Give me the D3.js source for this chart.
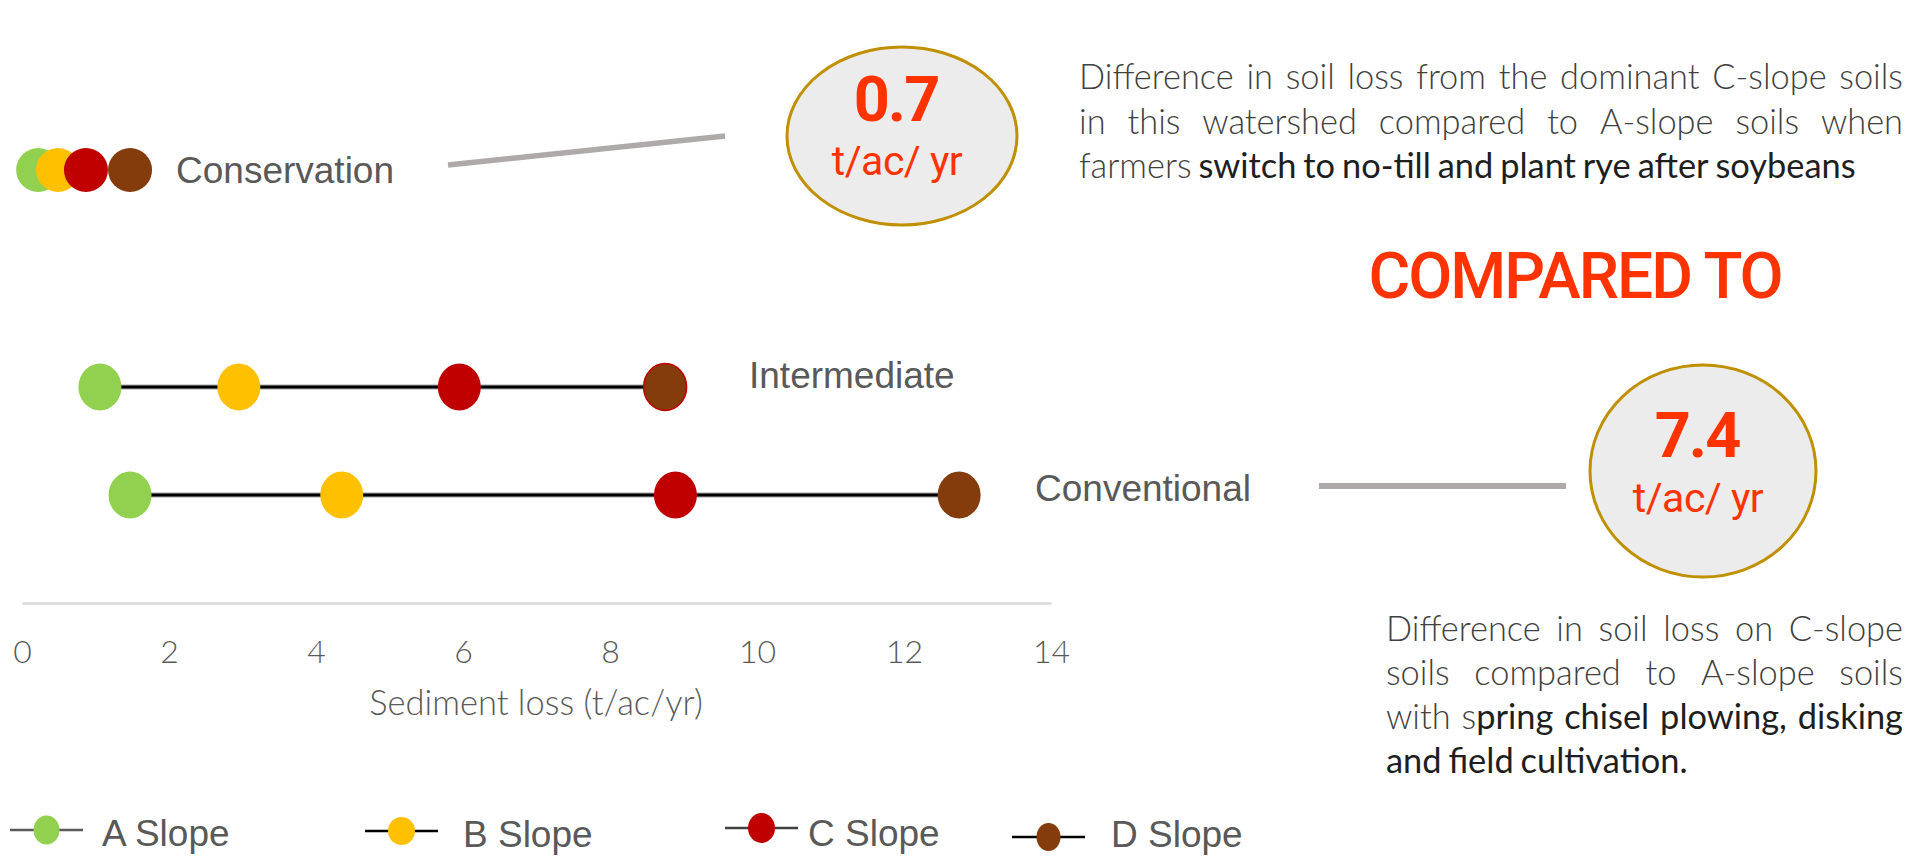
<!DOCTYPE html>
<html>
<head>
<meta charset="utf-8">
<script src="https://cdn.jsdelivr.net/npm/d3@7/dist/d3.min.js"></script>
<style>
  html, body { margin: 0; padding: 0; background: #ffffff; }
  svg { display: block; }
</style>
</head>
<body>
<svg id="chart" width="1921" height="856"></svg>
<script>
// ---------------- DATA ----------------
const categories = ["Conservation", "Intermediate", "Conventional"];
const slopeNames = ["A Slope", "B Slope", "C Slope", "D Slope"];
const aSlope = [0.22, 1.06, 1.47];
const bSlope = [0.49, 2.95, 4.35];
const cSlope = [0.87, 5.95, 8.89];
const dSlope = [1.47, 8.75, 12.75];
const xTicks = [0, 2, 4, 6, 8, 10, 12, 14];
const axisTitle = "Sediment loss (t/ac/yr)";
const diffValues = ["0.7", "7.4"];
const diffUnit = "t/ac/ yr";
const headline = "COMPARED TO";
// '*' toggles the darker (emphasised) text
const para1 = [
  "Difference in soil loss from the dominant C-slope soils",
  "in this watershed compared to A-slope soils when",
  "farmers *switch to no-till and plant rye after soybeans"
];
const para2 = [
  "Difference in soil loss on C-slope",
  "soils compared to A-slope soils",
  "with s*pring chisel plowing, disking",
  "and field cultivation."
];

// ---------------- STYLE / LAYOUT ----------------
const slopeColors = ["#92d050", "#ffc000", "#c00000", "#843c0c"];
const series = [aSlope, bSlope, cSlope, dSlope];
const labelColor = "#595959";
const accent = "#ff3300";

const svg = d3.select("#chart");

const x = d3.scaleLinear().domain([0, 14]).range([22, 1051]);
const y = d3.scaleOrdinal().domain(categories).range([170, 387, 495]);

// ---------------- AXIS ----------------
const axisG = svg.append("g").attr("transform", "translate(0,603)")
  .call(d3.axisBottom(x).tickValues(xTicks).tickSize(0).tickSizeOuter(0).tickFormat(d3.format("d")));
axisG.select(".domain").attr("stroke", "#d9d9d9").attr("stroke-width", 2.5);
axisG.selectAll(".tick text")
  .attr("y", 60).attr("dy", null)
  .attr("fill", labelColor)
  .style("font-family", "Lato, sans-serif").style("font-weight", 300).style("font-size", "32px");

svg.append("text")
  .attr("x", 536).attr("y", 715).attr("text-anchor", "middle")
  .attr("fill", labelColor)
  .style("font-family", "Lato, sans-serif").style("font-weight", 300).style("font-size", "34.5px")
  .text(axisTitle);

// ---------------- DUMBBELL ROWS ----------------
const rows = categories.map((c, i) => ({ cat: c, vals: series.map(s => s[i]) }));

rows.filter(r => r.cat !== "Conservation").forEach(r => {
  const x1 = x(d3.min(r.vals)), x2 = x(d3.max(r.vals));
  svg.append("line").attr("x1", x1).attr("x2", x2).attr("y1", y(r.cat)).attr("y2", y(r.cat))
    .attr("stroke", "#a6a6a6").attr("stroke-width", 5);
  svg.append("line").attr("x1", x1).attr("x2", x2).attr("y1", y(r.cat)).attr("y2", y(r.cat))
    .attr("stroke", "#000").attr("stroke-width", 3);
});

rows.forEach(r => {
  const g = svg.append("g");
  g.selectAll("ellipse").data(r.vals).join("ellipse")
    .attr("cx", d => x(d))
    .attr("cy", y(r.cat))
    .attr("rx", r.cat === "Conservation" ? 22 : 21.5)
    .attr("ry", r.cat === "Conservation" ? 22 : 23.5)
    .attr("fill", (d, i) => slopeColors[i])
    .attr("stroke", (d, i) => (r.cat === "Intermediate" && i === 3) ? "#c00000" : "none")
    .attr("stroke-width", 1.5);
});

const rowLabelPos = { "Conservation": [176, 183], "Intermediate": [749, 388], "Conventional": [1035, 501] };
categories.forEach(c => {
  svg.append("text").attr("x", rowLabelPos[c][0]).attr("y", rowLabelPos[c][1])
    .attr("fill", labelColor)
    .style("font-family", "'Liberation Sans', Arial, sans-serif").style("font-size", "37px")
    .text(c);
});

// ---------------- ANNOTATION CONNECTORS ----------------
svg.append("line").attr("x1", 448).attr("y1", 165).attr("x2", 725).attr("y2", 136)
  .attr("stroke", "#aeaaaa").attr("stroke-width", 5.5);
svg.append("line").attr("x1", 1319).attr("y1", 486).attr("x2", 1566).attr("y2", 486)
  .attr("stroke", "#aeaaaa").attr("stroke-width", 6);

// ---------------- BUBBLES ----------------
const bubbles = [
  { cx: 902, cy: 136, rx: 115, ry: 89, val: diffValues[0], vy: 121, uy: 175 },
  { cx: 1703, cy: 471, rx: 113, ry: 106, val: diffValues[1], vy: 457, uy: 512 }
];
bubbles.forEach(b => {
  svg.append("ellipse").attr("cx", b.cx).attr("cy", b.cy).attr("rx", b.rx).attr("ry", b.ry)
    .attr("fill", "#ececec").attr("stroke", "#bf9000").attr("stroke-width", 3);
  svg.append("text").attr("x", b.cx - 6).attr("y", b.vy).attr("text-anchor", "middle")
    .attr("fill", accent)
    .style("font-family", "Roboto, sans-serif").style("font-weight", 700).style("font-size", "63px")
    .style("letter-spacing", "-2px")
    .text(b.val);
  svg.append("text").attr("x", b.cx - 5).attr("y", b.uy).attr("text-anchor", "middle")
    .attr("fill", accent)
    .style("font-family", "Roboto, sans-serif").style("font-weight", 400).style("font-size", "41px")
    .style("letter-spacing", "-0.5px")
    .text(diffUnit);
});

svg.append("text").attr("x", 1575).attr("y", 298).attr("text-anchor", "middle")
  .attr("fill", accent)
  .style("font-family", "Roboto, sans-serif").style("font-weight", 500).style("font-size", "64px")
  .style("letter-spacing", "-2px")
  .text(headline);

// ---------------- JUSTIFIED PARAGRAPHS ----------------
function drawPara(lines, x0, x1, y0, lh) {
  let dark = false;
  const fs = 34.4;
  const g = svg.append("g").style("font-family", "Lato, sans-serif").style("font-size", fs + "px");
  const spaceW = fs * 0.2;
  lines.forEach((ln, li) => {
    const words = ln.split(" ").filter(w => w.length);
    const wordEls = words.map(w => {
      const parts = w.split("*");
      const t = g.append("text").attr("y", y0 + li * lh);
      parts.forEach((p, j) => {
        if (j > 0) dark = !dark;
        if (p) t.append("tspan").text(p)
          .attr("fill", dark ? "#1e1e1e" : "#404040")
          .style("font-weight", dark ? 400 : 300);
      });
      return t;
    });
    const widths = wordEls.map(t => t.node().getComputedTextLength());
    const total = d3.sum(widths);
    const isLast = li === lines.length - 1;
    const gap = (!isLast && words.length > 1) ? (x1 - x0 - total) / (words.length - 1) : spaceW;
    let cx = x0;
    wordEls.forEach((t, i) => { t.attr("x", cx); cx += widths[i] + gap; });
  });
}
drawPara(para1, 1079, 1903, 89, 44.5);
drawPara(para2, 1386, 1903, 641, 44);

// ---------------- LEGEND ----------------
const legendLayout = [
  { lx: 10, ly: 830, ty: 846, tx: 102, rx: 13, ry: 14.5, lc: "#595959" },
  { lx: 365, ly: 831, ty: 847, tx: 463, rx: 13.5, ry: 14, lc: "#000" },
  { lx: 725, ly: 828, ty: 846, tx: 808, rx: 13.5, ry: 15, lc: "#404040" },
  { lx: 1012, ly: 837, ty: 847, tx: 1111, rx: 12, ry: 14, lc: "#000" }
];
slopeNames.forEach((name, i) => {
  const L = legendLayout[i];
  const g = svg.append("g");
  g.append("line").attr("x1", L.lx).attr("x2", L.lx + 73).attr("y1", L.ly).attr("y2", L.ly)
    .attr("stroke", L.lc).attr("stroke-width", 2.5);
  g.append("ellipse").attr("cx", L.lx + 36.5).attr("cy", L.ly).attr("rx", L.rx).attr("ry", L.ry)
    .attr("fill", slopeColors[i]);
  g.append("text").attr("x", L.tx).attr("y", L.ty).attr("fill", labelColor)
    .style("font-family", "'Liberation Sans', Arial, sans-serif").style("font-size", "37px")
    .text(name);
});
</script>
</body>
</html>
